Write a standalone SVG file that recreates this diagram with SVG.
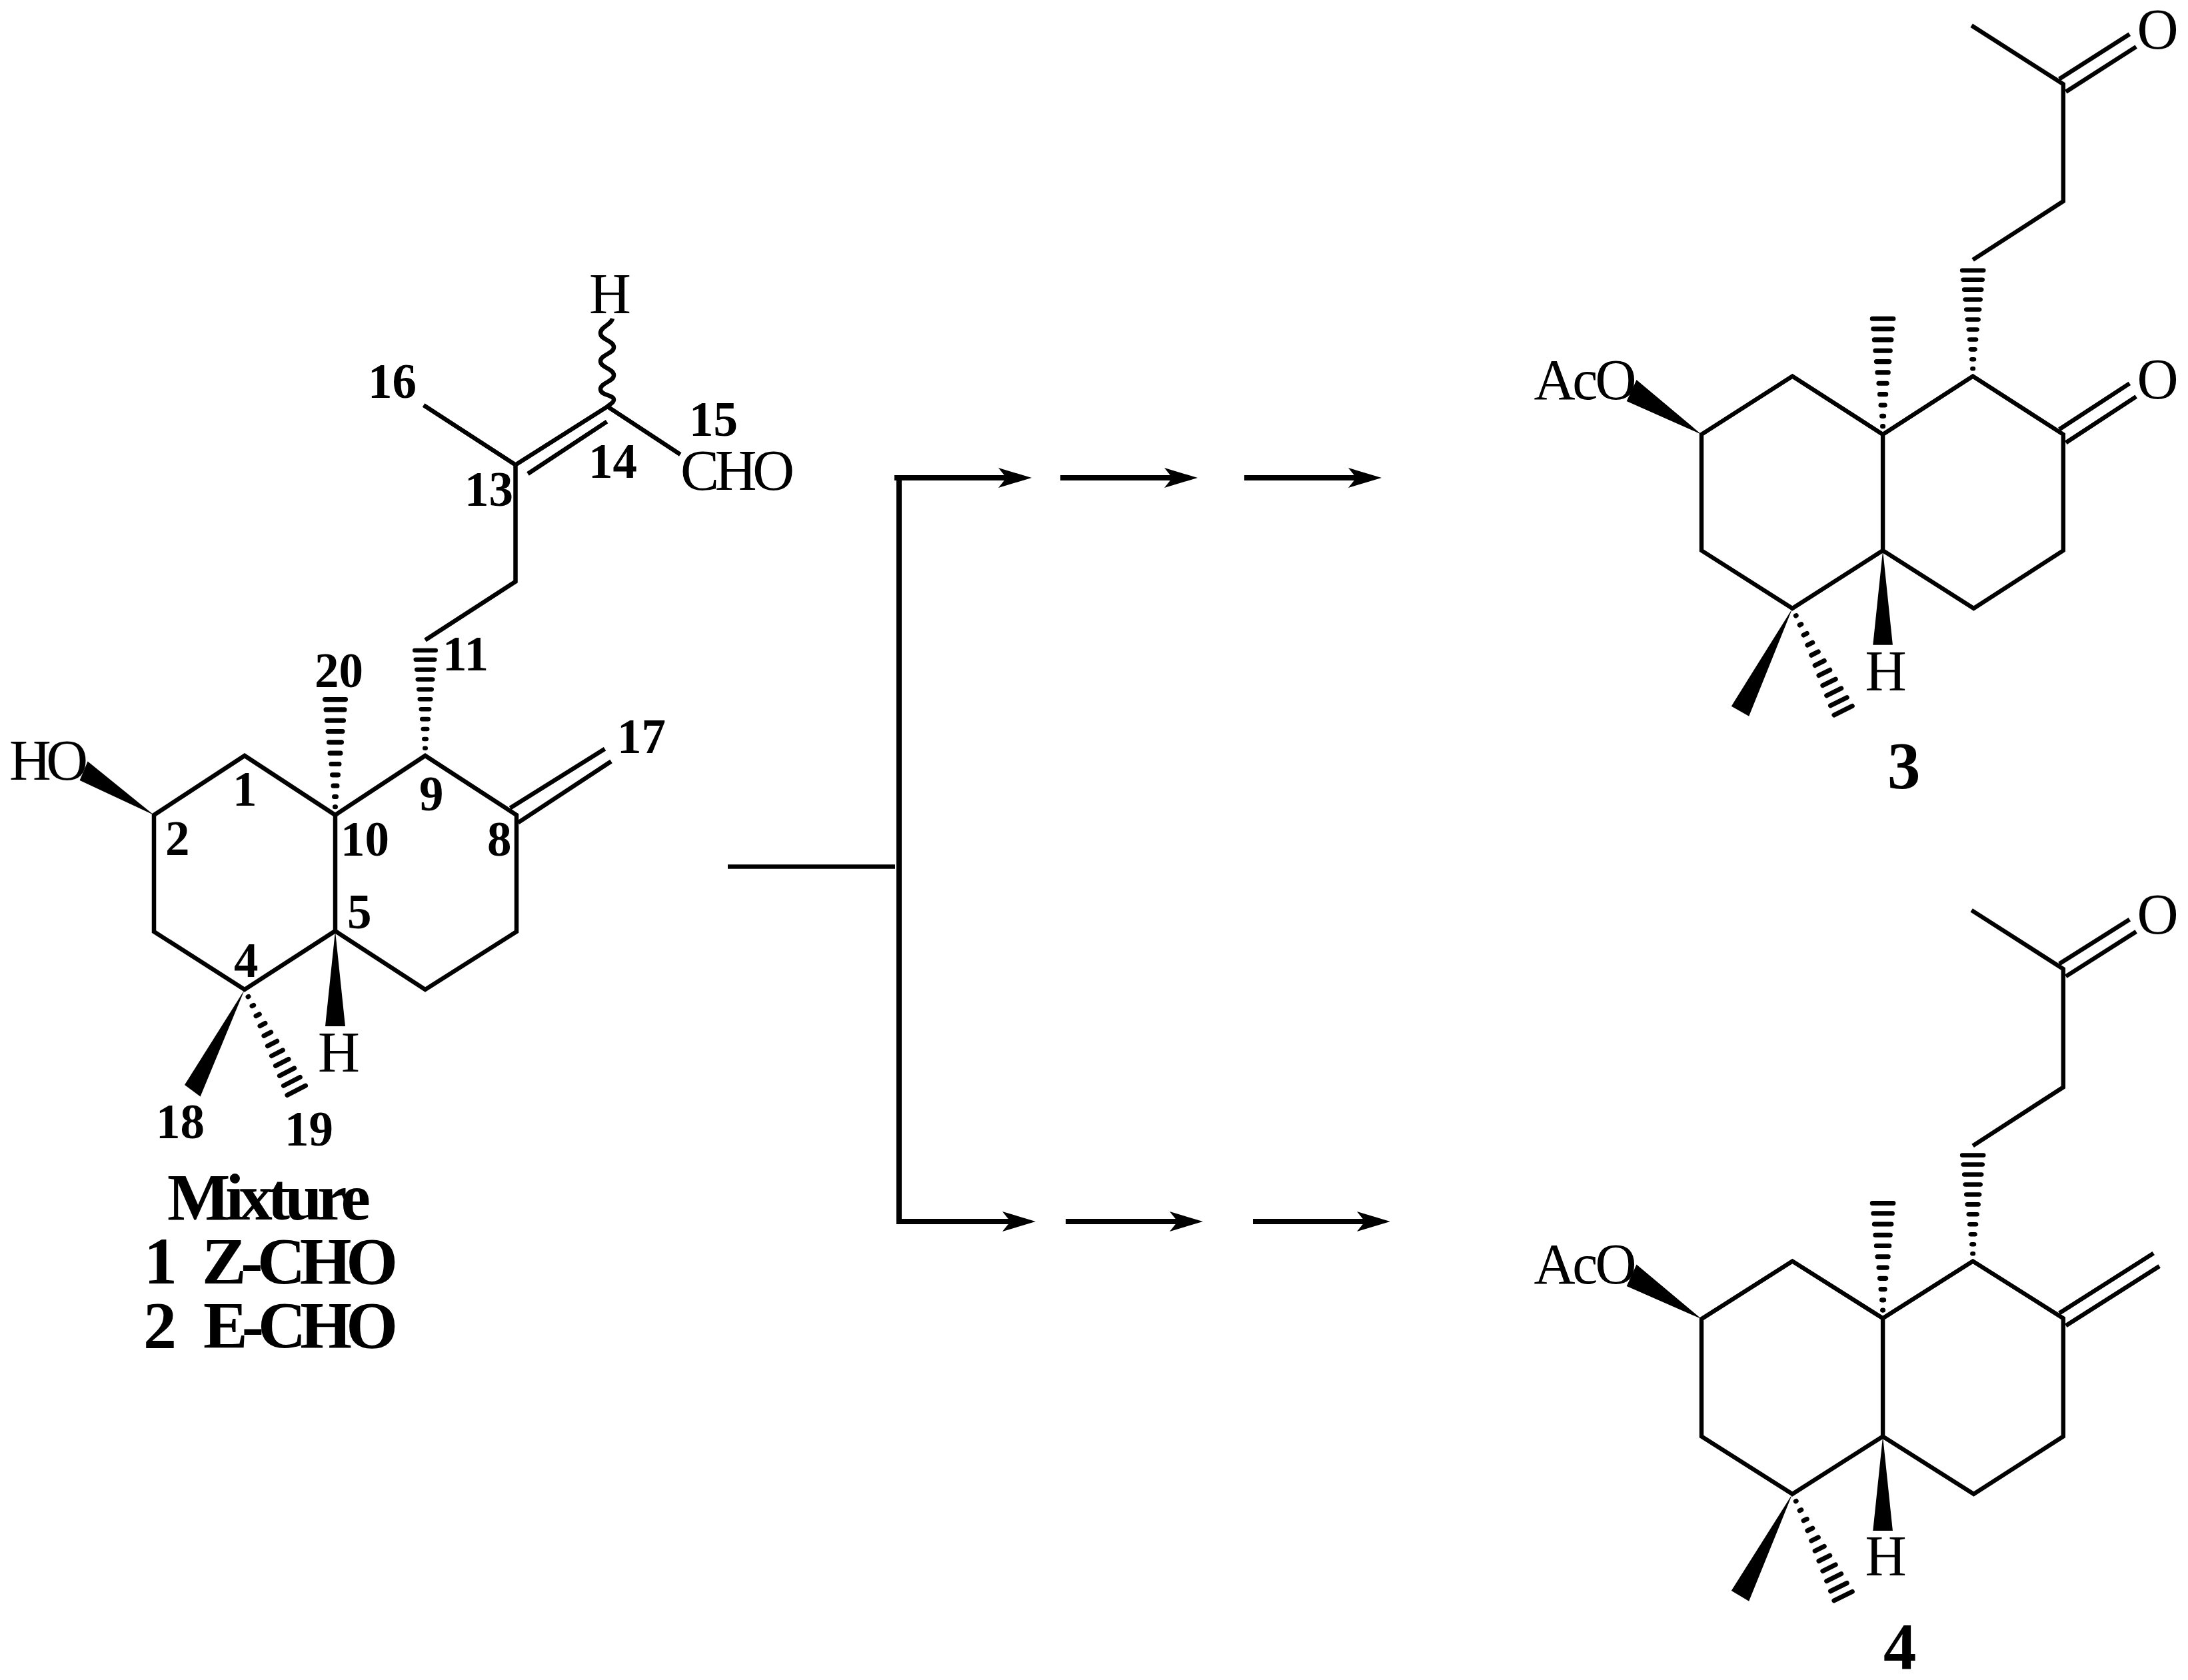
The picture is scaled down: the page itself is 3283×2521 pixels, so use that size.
<svg xmlns="http://www.w3.org/2000/svg" xmlns:xlink="http://www.w3.org/1999/xlink" width="3283" height="2521" viewBox="0 0 3283 2521">
<style>
.b{fill:none;stroke:#000;stroke-width:6.5;stroke-linejoin:miter;stroke-linecap:butt}
.w{fill:#000;stroke:none}
.l{font-family:"Liberation Serif","Times New Roman",serif;font-size:87px;fill:#000}
.n{font-family:"Liberation Serif","Times New Roman",serif;font-size:73px;font-weight:bold;fill:#000}
.t{font-family:"Liberation Serif","Times New Roman",serif;font-size:100px;font-weight:bold;fill:#000}
.a{fill:none;stroke:#000;stroke-width:8}
.m{fill:none;stroke:#000;stroke-width:6.5}
</style>
<defs>
<marker id="head" markerUnits="userSpaceOnUse" markerWidth="52" markerHeight="32" refX="30" refY="16" orient="auto" viewBox="0 0 52 32"><path d="M50 16L0 1L12 16L0 31Z" fill="#000"/></marker>
<g id="hash" fill="none" stroke="#000" stroke-width="7" stroke-linecap="round">
<path d="M-.5 -12H.5M-1.5 -27H1.5M-3 -43H3M-4.5 -59H4.5M-6 -75H6M-8 -91H8M-9.5 -107H9.5M-11 -123H11M-12.5 -139H12.5M-14 -155H14M-15.5 -170H15.5"/>
</g>
</defs>
<rect width="3283" height="2521" fill="#fff"/>

<g id="connectors">
<path class="m" d="M1092 1300.5H1343"/>
<path class="a" d="M1349 713V1837"/>
<path class="a" d="M1342 717H1528" marker-end="url(#head)"/>
<path class="a" d="M1591 717H1777" marker-end="url(#head)"/>
<path class="a" d="M1867 717H2053" marker-end="url(#head)"/>
<path class="a" d="M1349 1833H1534" marker-end="url(#head)"/>
<path class="a" d="M1599 1833H1785" marker-end="url(#head)"/>
<path class="a" d="M1880 1833H2066" marker-end="url(#head)"/>
</g>

<g id="mixture">
<path class="b" d="M231 1223L367 1134L503 1223L638 1134L775 1223V1398L638 1485L503 1397L367 1485L231 1398ZM503 1223V1397"/>
<path class="b" d="M765.5 1212.6L907.5 1123.7M777.5 1234.4L917 1142.5"/>
<path class="b" d="M638 960.5L773.5 872.7V697.5L911.5 610L1020.7 682M773.5 697.5L635.6 608M792 711L910.6 632.6"/>
<path class="b" d="M919 478C917 488 901 490 901 500C901 510 921 511 921 521C921 531 901 532 901 542C901 552 921 553 921 563C921 573 901 574 901 584C901 594 921 592 921 600C921 604 916 606 911.5 610"/>
<polygon class="w" points="231,1223 131.6,1142.6 119.6,1171"/>
<polygon class="w" points="503,1397 488,1540 518,1540"/>
<polygon class="w" points="367,1485 277,1628 300.6,1645.5"/>
<use href="#hash" xlink:href="#hash" transform="translate(503 1223) scale(1 1.02)"/>
<use href="#hash" xlink:href="#hash" transform="translate(638 1134) scale(1 .93)"/>
<use href="#hash" xlink:href="#hash" transform="translate(367 1485) rotate(152.8)"/>
<text class="l" x="884" y="470">H</text>
<text class="l" x="14" y="1170" textLength="118" lengthAdjust="spacing">HO</text>
<text class="l" x="1021" y="735" textLength="171" lengthAdjust="spacing">CHO</text>
<text class="l" x="477" y="1608">H</text>
<text class="n" x="552" y="597">16</text>
<text class="n" x="697" y="759">13</text>
<text class="n" x="883" y="717">14</text>
<text class="n" x="1034" y="654">15</text>
<text class="n" x="664" y="1006">11</text>
<text class="n" x="472" y="1031">20</text>
<text class="n" x="926" y="1130">17</text>
<text class="n" x="349" y="1209">1</text>
<text class="n" x="629" y="1216">9</text>
<text class="n" x="248" y="1283">2</text>
<text class="n" x="511" y="1284">10</text>
<text class="n" x="731" y="1284">8</text>
<text class="n" x="521" y="1393">5</text>
<text class="n" x="351" y="1466">4</text>
<text class="n" x="234" y="1708">18</text>
<text class="n" x="427" y="1719">19</text>
<text class="t" x="251" y="1830" textLength="305" lengthAdjust="spacing">Mixture</text>
<text class="t" x="216" y="1926">1</text>
<text class="t" x="303" y="1926" textLength="294" lengthAdjust="spacing">Z-CHO</text>
<text class="t" x="215" y="2022">2</text>
<text class="t" x="305" y="2022" textLength="292" lengthAdjust="spacing">E-CHO</text>
</g>

<g id="compound-3" transform="translate(26.685 0) scale(.98814 .98699)">
<path class="b" d="M2556.7 660.5L2694.7 572L2832 660.5L2968.7 572L3106 660.5V837L2970 925L2832 837L2694.7 925L2556.7 837ZM2832 660.5V837"/>
<path class="b" d="M3100 652.7L3206.7 583M3110 673L3216.7 603"/>
<path class="b" d="M2968.7 395L3106 306V128L2966.7 38.8M3100 120L3206.7 52M3110 139.5L3216.7 71"/>
<polygon class="w" points="2556.7,660.5 2458,577.5 2443,610"/>
<polygon class="w" points="2832,837 2817,980.6 2847,980.6"/>
<polygon class="w" points="2694.7,925 2602,1073.6 2628.7,1089"/>
<use href="#hash" xlink:href="#hash" transform="translate(2832 660.5) scale(1.03 1.035)"/>
<use href="#hash" xlink:href="#hash" transform="translate(2968.7 572) scale(1.03 .947)"/>
<use href="#hash" xlink:href="#hash" transform="translate(2694.7 925) rotate(153.6) scale(1 1.02)"/>
<text class="l" x="3218" y="74">O</text>
<text class="l" x="3218" y="606">O</text>
<text class="l" x="2302" y="607" textLength="156" lengthAdjust="spacing">AcO</text>
<text class="l" x="2805" y="1050">H</text>
<text class="t" x="2839" y="1198">3</text>
</g>

<g id="compound-4" transform="translate(26.685 17.17) scale(.98814 .98699)">
<path class="b" d="M2556.7 1988L2694.7 1900L2832 1987L2968.7 1900L3106 1987V2166.5L2970 2254L2832 2166.5L2694.7 2254L2556.7 2166.5ZM2832 1987V2166.5"/>
<path class="b" d="M3100 1979L3243 1888M3110 1998L3252 1907.6"/>
<path class="b" d="M2968.7 1724.7L3106 1635.5V1455.7L2966.7 1366.5M3100 1448L3206.7 1380.5M3110 1467L3216.7 1399"/>
<polygon class="w" points="2556.7,1988 2458,1905 2443,1938"/>
<polygon class="w" points="2832,2166.5 2817,2310 2847,2310"/>
<polygon class="w" points="2694.7,2254 2602,2401 2628.7,2417"/>
<use href="#hash" xlink:href="#hash" transform="translate(2832 1987) scale(1.03 1.03)"/>
<use href="#hash" xlink:href="#hash" transform="translate(2968.7 1900) scale(1.03 .947)"/>
<use href="#hash" xlink:href="#hash" transform="translate(2694.7 2254) rotate(153.6) scale(1 1.02)"/>
<text class="l" x="3218" y="1402">O</text>
<text class="l" x="2302" y="1934" textLength="156" lengthAdjust="spacing">AcO</text>
<text class="l" x="2805" y="2378">H</text>
<text class="t" x="2833" y="2520">4</text>
</g>
</svg>
